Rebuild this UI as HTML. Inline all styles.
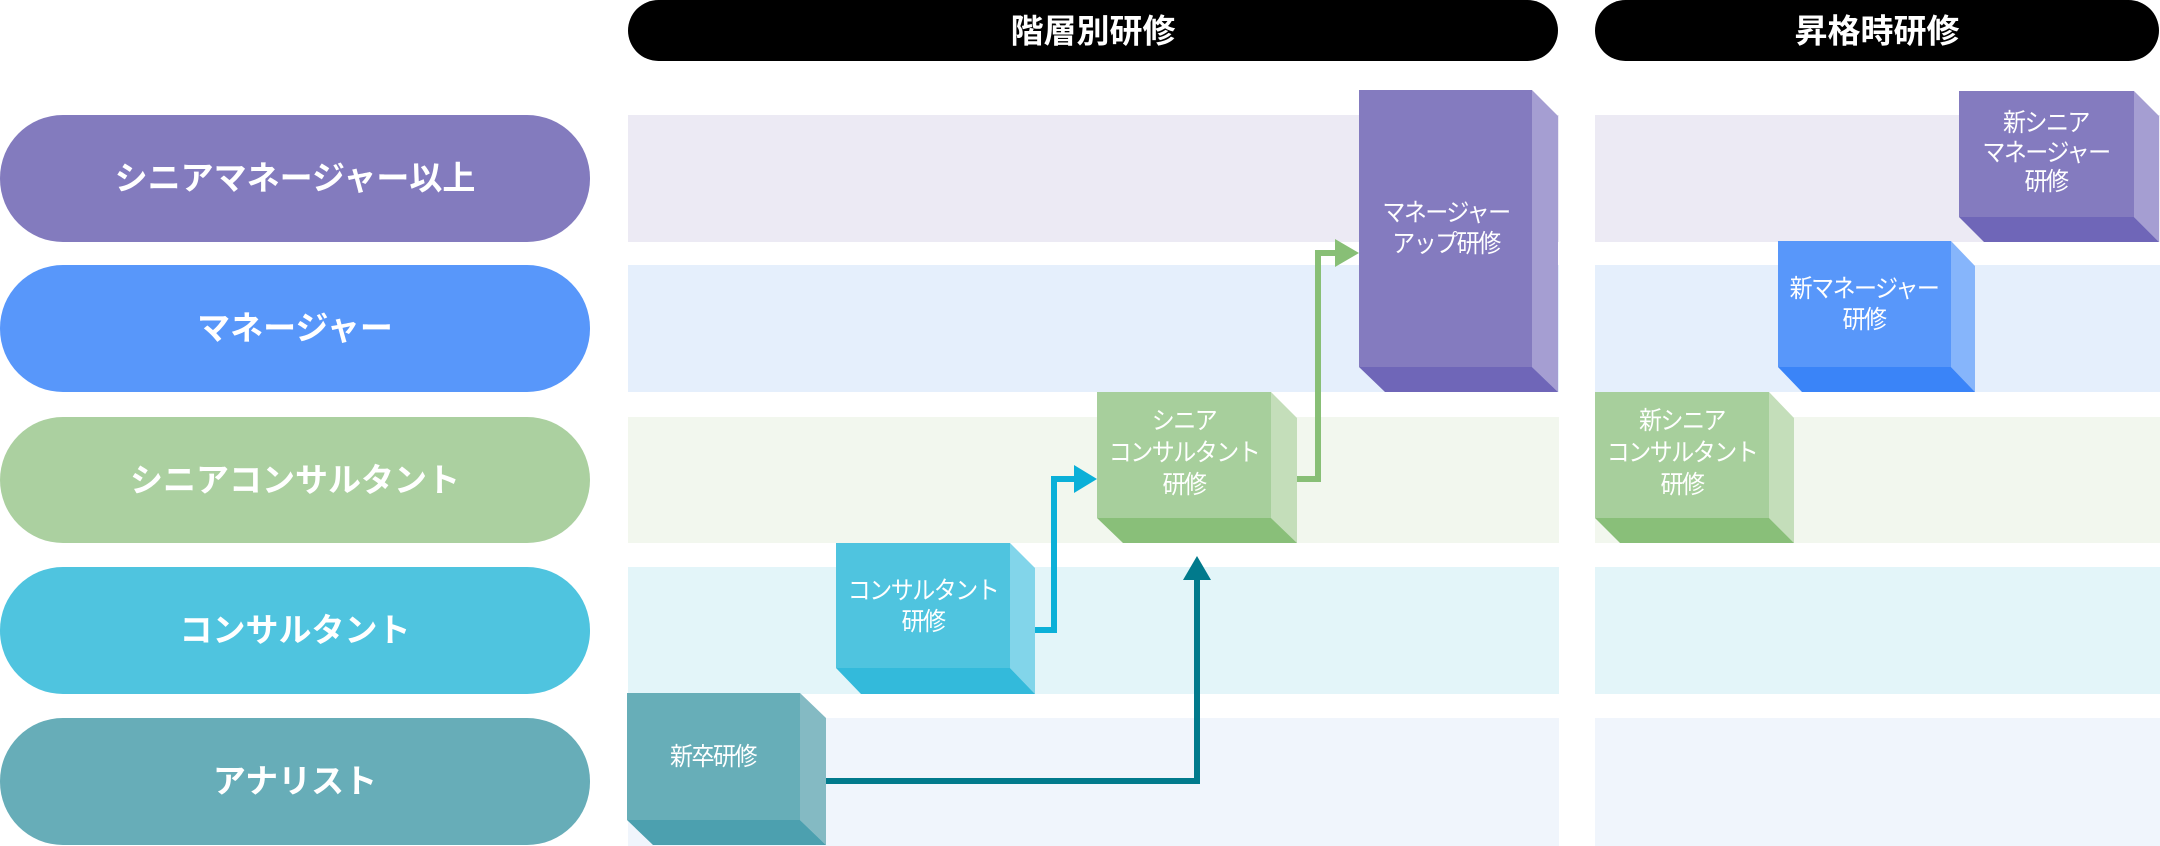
<!DOCTYPE html>
<html><head><meta charset="utf-8"><style>
html,body{margin:0;padding:0;background:#fff;width:2160px;height:846px;overflow:hidden}
svg{display:block}
text{font-family:"Liberation Sans","Noto Sans CJK JP",sans-serif;fill:#fff;text-anchor:middle;dominant-baseline:central}
.pl{font-size:33px;font-weight:bold}
.hd{font-size:33px;font-weight:bold}
.bx{font-size:23px;letter-spacing:-1.5px;transform-box:fill-box;transform-origin:center;transform:scaleY(1.08)}
</style></head><body>
<svg width="2160" height="846" viewBox="0 0 2160 846" xmlns="http://www.w3.org/2000/svg">
<rect x="628" y="0" width="930" height="61" rx="30.5" fill="#000"/>
<text class="hd" x="1093" y="31">階層別研修</text>
<rect x="1595" y="0" width="564" height="61" rx="30.5" fill="#000"/>
<text class="hd" x="1877" y="31">昇格時研修</text>
<rect x="628" y="115" width="931" height="127" fill="#ECEAF4"/><rect x="1595" y="115" width="565" height="127" fill="#ECEAF4"/>
<rect x="628" y="265" width="931" height="127" fill="#E5EFFC"/><rect x="1595" y="265" width="565" height="127" fill="#E5EFFC"/>
<rect x="628" y="417" width="931" height="126" fill="#F2F7EE"/><rect x="1595" y="417" width="565" height="126" fill="#F2F7EE"/>
<rect x="628" y="567" width="931" height="127" fill="#E3F5F9"/><rect x="1595" y="567" width="565" height="127" fill="#E3F5F9"/>
<rect x="628" y="718" width="931" height="128" fill="#F0F5FC"/><rect x="1595" y="718" width="565" height="128" fill="#F0F5FC"/>
<rect x="0" y="115" width="590" height="127" rx="63" fill="#837BBE"/><text class="pl" x="295" y="178">シニアマネージャー以上</text>
<rect x="0" y="265" width="590" height="127" rx="63" fill="#5897FA"/><text class="pl" x="295" y="328">マネージャー</text>
<rect x="0" y="417" width="590" height="126" rx="63" fill="#ABD0A0"/><text class="pl" x="295" y="480">シニアコンサルタント</text>
<rect x="0" y="567" width="590" height="127" rx="63" fill="#4FC4DF"/><text class="pl" x="295" y="630">コンサルタント</text>
<rect x="0" y="718" width="590" height="127" rx="63" fill="#67ADB8"/><text class="pl" x="295" y="781">アナリスト</text>

<polyline points="826,781 1197,781 1197,578" fill="none" stroke="#017A8C" stroke-width="6"/>
<polygon points="1183,580 1211,580 1197,556" fill="#017A8C"/>
<polyline points="1035,630 1054,630 1054,479 1076,479" fill="none" stroke="#0BB0D8" stroke-width="6"/>
<polygon points="1074,465 1074,493 1097,479" fill="#0BB0D8"/>
<polyline points="1297,479 1318,479 1318,253 1337,253" fill="none" stroke="#88BF76" stroke-width="6"/>
<polygon points="1335,239 1335,267 1359,253" fill="#88BF76"/>

<polygon points="800,693 826,718 826,845 800,820" fill="#84BAC3"/>
<polygon points="627,820 800,820 826,845 653,845" fill="#4CA0AF"/>
<rect x="627" y="693" width="173" height="127" fill="#67AEB8"/>
<text class="bx" x="713" y="757">新卒研修</text>
<polygon points="1010,543 1035,568 1035,694 1010,668" fill="#82D5EA"/>
<polygon points="836,668 1010,668 1035,694 861,694" fill="#33BADB"/>
<rect x="836" y="543" width="174" height="125" fill="#4FC4DF"/>
<text class="bx" x="923" y="591">コンサルタント</text><text class="bx" x="923" y="622">研修</text>
<polygon points="1271,392 1297,418 1297,543 1271,518" fill="#C4DEBA"/>
<polygon points="1097,518 1271,518 1297,543 1123,543" fill="#89BF79"/>
<rect x="1097" y="392" width="174" height="126" fill="#A7CF9C"/>
<text class="bx" x="1184" y="421">シニア</text><text class="bx" x="1184" y="453">コンサルタント</text><text class="bx" x="1184" y="485">研修</text>
<polygon points="1532,90 1558,116 1558,392 1532,367" fill="#A59ED2"/>
<polygon points="1359,367 1532,367 1558,392 1385,392" fill="#6F66B8"/>
<rect x="1359" y="90" width="173" height="277" fill="#847BBF"/>
<text class="bx" x="1446" y="213">マネージャー</text><text class="bx" x="1446" y="244">アップ研修</text>
<polygon points="2134,91 2159,116 2159,242 2134,217" fill="#A59ED2"/>
<polygon points="1959,217 2134,217 2159,242 1984,242" fill="#6F66B8"/>
<rect x="1959" y="91" width="175" height="126" fill="#847BBF"/>
<text class="bx" x="2046" y="123">新シニア</text><text class="bx" x="2046" y="153">マネージャー</text><text class="bx" x="2046" y="182">研修</text>
<polygon points="1951,241 1975,266 1975,392 1951,367" fill="#86B5FB"/>
<polygon points="1778,367 1951,367 1975,392 1802,392" fill="#3A84F8"/>
<rect x="1778" y="241" width="173" height="126" fill="#5897FA"/>
<text class="bx" x="1864" y="289">新マネージャー</text><text class="bx" x="1864" y="320">研修</text>
<polygon points="1769,392 1794,418 1794,543 1769,518" fill="#C4DEBA"/>
<polygon points="1595,518 1769,518 1794,543 1620,543" fill="#89BF79"/>
<rect x="1595" y="392" width="174" height="126" fill="#A7CF9C"/>
<text class="bx" x="1682" y="421">新シニア</text><text class="bx" x="1682" y="453">コンサルタント</text><text class="bx" x="1682" y="485">研修</text>
</svg>
</body></html>
